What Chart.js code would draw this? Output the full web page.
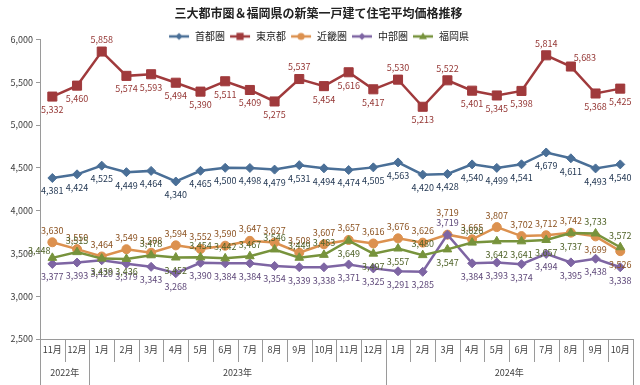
<!DOCTYPE html>
<html lang="ja">
<head>
<meta charset="UTF-8">
<title>三大都市圏＆福岡県の新築一戸建て住宅平均価格推移</title>
<script src="https://cdn.jsdelivr.net/npm/chart.js"></script>
<style>
  body { margin: 0; background: #fff; }
  canvas { display: block; }
</style>
</head>
<body>
<canvas id="chart" width="640" height="385"></canvas>
<script>
  // 2022年11月〜2024年10月
  const months = ['11月','12月','1月','2月','3月','4月','5月','6月','7月','8月','9月','10月','11月','12月',
                  '1月','2月','3月','4月','5月','6月','7月','8月','9月','10月'];
  const years = [
    { label: '2022年', from: 0, to: 2 },
    { label: '2023年', from: 2, to: 14 },
    { label: '2024年', from: 14, to: 24 }
  ];
  const yTicks = [2500, 3000, 3500, 4000, 4500, 5000, 5500, 6000];

  const shutoken = [4381, 4424, 4525, 4449, 4464, 4340, 4465, 4500, 4498, 4479, 4531, 4494,
                    4474, 4505, 4563, 4420, 4428, 4540, 4499, 4541, 4679, 4611, 4493, 4540];
  const tokyo = [5332, 5460, 5858, 5574, 5593, 5494, 5390, 5511, 5409, 5275, 5537, 5454,
                 5616, 5417, 5530, 5213, 5522, 5401, 5345, 5398, 5814, 5683, 5368, 5425];
  const kinki = [3630, 3550, 3464, 3549, 3508, 3594, 3552, 3590, 3647, 3627, 3508, 3607,
                 3657, 3616, 3676, 3626, 3719, 3665, 3807, 3702, 3712, 3742, 3699, 3526];
  const chubu = [3377, 3393, 3420, 3379, 3343, 3268, 3390, 3384, 3384, 3354, 3339, 3338,
                 3371, 3325, 3291, 3285, 3719, 3384, 3393, 3374, 3494, 3395, 3438, 3338];
  const fukuoka = [3448, 3515, 3439, 3436, 3478, 3452, 3454, 3442, 3467, 3546, 3449, 3483,
                   3649, 3497, 3557, 3480, 3547, 3626, 3642, 3641, 3657, 3737, 3733, 3572];

  // label placement: a = above, A = far above, b = below, r = upper right, l = upper left
  const posShutoken = 'bbbbbbbbbbbbbbbbbbbbbbbb';
  const posTokyo    = 'bbabbbbbbbabbbababbbarbb';
  const posKinki    = 'aaaaaaaaaaaaaaaaAaaaaabb';
  const posChubu    = 'bbbbbbbbbbbbbbbbabbbbbbb';
  const posFukuoka  = 'labbabaaaaaabbbababbbbaa';

  const FONT = '"Noto Sans CJK JP", "Noto Sans", sans-serif';
  const LEGEND_OVERLAP = 12;

  function marker(ctx, style, x, y, r, color) {
    ctx.fillStyle = color;
    ctx.beginPath();
    if (style === 'rect') {
      ctx.rect(x - r * 0.7, y - r * 0.7, r * 1.4, r * 1.4);
    } else if (style === 'rectRot') {
      ctx.moveTo(x, y - r); ctx.lineTo(x + r, y); ctx.lineTo(x, y + r); ctx.lineTo(x - r, y);
    } else if (style === 'triangle') {
      ctx.moveTo(x, y - r); ctx.lineTo(x + r, y + r * 0.7); ctx.lineTo(x - r, y + r * 0.7);
    } else {
      ctx.arc(x, y, r, 0, Math.PI * 2);
    }
    ctx.closePath();
    ctx.fill();
  }

  function legendIcon(color, style, r) {
    const c = document.createElement('canvas');
    c.width = 22; c.height = 10;
    const ctx = c.getContext('2d');
    ctx.strokeStyle = color; ctx.lineWidth = 2.5;
    ctx.beginPath(); ctx.moveTo(1, 5); ctx.lineTo(21, 5); ctx.stroke();
    marker(ctx, style, 11, 5, r * 0.8, color);
    return c;
  }

  function series(label, data, color, textColor, style, radius, pos) {
    return {
      label, data,
      borderColor: color, backgroundColor: color,
      pointBackgroundColor: color, pointBorderColor: color,
      pointStyle: style, pointRadius: radius, pointBorderWidth: 1,
      borderWidth: 2.5, tension: 0,
      labelColor: textColor, labelPos: pos,
      icon: legendIcon(color, style, radius)
    };
  }

  const datasets = [
    series('首都圏', shutoken, '#4a6f97', '#1f3450', 'rectRot', 4.5, posShutoken),
    series('東京都', tokyo, '#a03a3c', '#953735', 'rect', 6.4, posTokyo),
    series('近畿圏', kinki, '#dc914f', '#8c5322', 'circle', 4.5, posKinki),
    series('中部圏', chubu, '#7e65a3', '#5f497a', 'rectRot', 4.5, posChubu),
    series('福岡県', fukuoka, '#77933c', '#4f6228', 'triangle', 5, posFukuoka)
  ];
  // later series drawn on top (as in the original)
  datasets.forEach((d, i) => { d.order = datasets.length - i; });

  // the legend sits partly beside the plot: give it less room in the layout,
  // then hand the full box back so its text is not clipped when drawn
  const tightLegend = {
    id: 'tightLegend',
    beforeLayout(chart) {
      const lg = chart.legend;
      if (lg && !lg._tight) {
        const fit = lg.fit.bind(lg);
        lg.fit = function () { fit(); this.height = Math.max(0, this.height - LEGEND_OVERLAP); };
        lg._tight = true;
      }
    },
    afterLayout(chart) {
      const lg = chart.legend;
      if (lg) { lg.height += LEGEND_OVERLAP; lg.bottom += LEGEND_OVERLAP; }
    }
  };

  const valueLabels = {
    id: 'valueLabels',
    afterDatasetsDraw(chart) {
      const ctx = chart.ctx;
      ctx.save();
      ctx.font = '9px ' + FONT;
      ctx.textAlign = 'center';
      ctx.textBaseline = 'middle';
      chart.data.datasets.forEach((ds, di) => {
        const meta = chart.getDatasetMeta(di);
        meta.data.forEach((pt, i) => {
          let x = pt.x, y = pt.y;
          const p = ds.labelPos[i];
          if (p === 'a') y -= 12;
          else if (p === 'A') y -= 22;
          else if (p === 'b') y += 13;
          else if (p === 'r') { x += 14; y -= 9; }
          else if (p === 'l') { x -= 13; y -= 7; }
          ctx.fillStyle = ds.labelColor;
          ctx.fillText(ds.data[i].toLocaleString('en-US'), x, y);
        });
      });
      ctx.restore();
    }
  };

  const axisRows = {
    id: 'axisRows',
    afterDraw(chart) {
      const ctx = chart.ctx;
      const xs = chart.scales.x;
      const top = chart.chartArea.bottom;
      const step = (xs.right - xs.left) / months.length;
      ctx.save();
      ctx.strokeStyle = '#9a9a9a';
      ctx.lineWidth = 1;
      const yearEdges = [];
      years.forEach(y => { yearEdges.push(y.from); yearEdges.push(y.to); });
      for (let i = 0; i <= months.length; i++) {
        const x = Math.round(xs.left + i * step) + 0.5;
        const long = yearEdges.includes(i);
        ctx.beginPath();
        ctx.moveTo(x, top);
        ctx.lineTo(x, long ? 385 : top + 23);
        ctx.stroke();
      }
      ctx.fillStyle = '#404040';
      ctx.font = '9px ' + FONT;
      ctx.textAlign = 'center';
      ctx.textBaseline = 'middle';
      years.forEach(y => {
        const cx = xs.left + (y.from + y.to) / 2 * step;
        ctx.fillText(y.label, cx, top + 34);
      });
      ctx.restore();
    }
  };

  new Chart(document.getElementById('chart'), {
    type: 'line',
    data: { labels: months, datasets },
    options: {
      responsive: false,
      animation: false,
      layout: { padding: { left: 0, right: 3, top: 0, bottom: 0 } },
      plugins: {
        title: {
          display: true,
          text: '三大都市圏＆福岡県の新築一戸建て住宅平均価格推移',
          color: '#222',
          font: { family: FONT, size: 12, weight: 'bold' },
          padding: { top: 6, bottom: 7 }
        },
        legend: {
          position: 'top',
          labels: {
            usePointStyle: true,
            pointStyleWidth: 22,
            boxHeight: 10,
            padding: 4,
            color: '#222',
            font: { family: FONT, size: 10 },
            generateLabels(chart) {
              return chart.data.datasets.map((d, i) => ({
                text: d.label,
                pointStyle: d.icon,
                fillStyle: d.borderColor,
                strokeStyle: d.borderColor,
                lineWidth: 0,
                fontColor: '#222',
                datasetIndex: i,
                hidden: false
              }));
            }
          }
        },
        tooltip: { enabled: false }
      },
      scales: {
        x: {
          offset: true,
          grid: { display: false, drawTicks: false, tickLength: 0 },
          border: { color: '#9a9a9a' },
          ticks: {
            autoSkip: false, maxRotation: 0, padding: 5,
            color: '#404040', font: { family: FONT, size: 9 }
          },
          afterFit(s) { s.height = 46; }
        },
        y: {
          min: yTicks[0],
          max: yTicks[yTicks.length - 1],
          afterBuildTicks(s) { s.ticks = yTicks.map(v => ({ value: v })); },
          grid: { drawOnChartArea: false, drawTicks: true, tickLength: 4, color: '#9a9a9a' },
          border: { color: '#9a9a9a' },
          ticks: {
            padding: 3,
            color: '#404040',
            font: { family: FONT, size: 9 },
            callback: v => v.toLocaleString('en-US')
          },
          afterFit(s) { s.width = 40; }
        }
      }
    },
    plugins: [tightLegend, valueLabels, axisRows]
  });
</script>
</body>
</html>
